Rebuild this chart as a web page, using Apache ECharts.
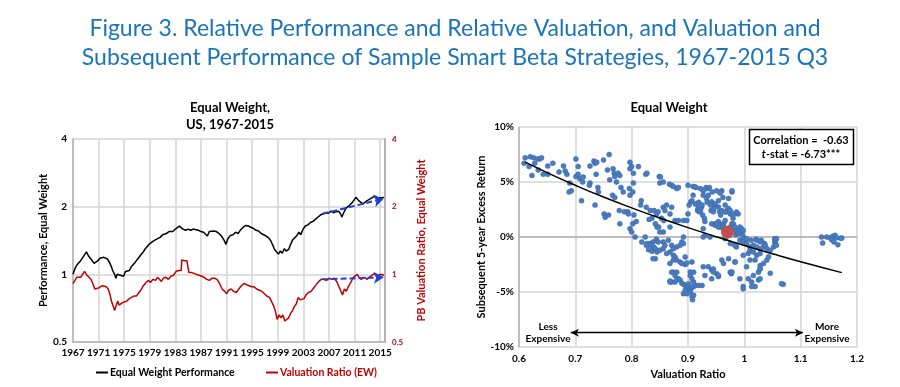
<!DOCTYPE html>
<html><head><meta charset="utf-8">
<script src="https://cdn.jsdelivr.net/npm/echarts@6/dist/echarts.min.js"></script>
<style>html,body{margin:0;padding:0;background:#fff}#c{width:900px;height:387px}</style>
</head><body><div id="c"></div>
<script>
const mainTitle = ['Figure 3. Relative Performance and Relative Valuation, and Valuation and',
                   'Subsequent Performance of Sample Smart Beta Strategies, 1967-2015 Q3'];
const leftTitle = ['Equal Weight,', 'US, 1967-2015'];
const rightTitle = 'Equal Weight';
const seriesNames = ['Equal Weight Performance', 'Valuation Ratio (EW)'];
const yearTicks = [1967,1971,1975,1979,1983,1987,1991,1995,1999,2003,2007,2011,2015];

const perfData = [
[1967.0,1.00],[1967.3,1.06],[1967.6,1.10],[1967.9,1.09],[1968.2,1.15],[1968.5,1.17],[1968.8,1.22],[1969.1,1.26],
[1969.4,1.21],[1969.7,1.18],[1970.0,1.17],[1970.3,1.12],[1970.6,1.11],[1970.9,1.15],[1971.2,1.18],[1971.5,1.16],
[1971.8,1.19],[1972.1,1.19],[1972.4,1.17],[1972.7,1.13],[1973.0,1.08],[1973.2,1.04],[1973.5,1.00],[1973.7,0.96],
[1973.9,1.00],[1974.2,1.02],[1974.4,0.99],[1974.7,1.00],[1974.9,0.98],[1975.2,1.03],[1975.5,1.05],[1975.8,1.04],
[1976.1,1.08],[1976.4,1.10],[1976.7,1.13],[1977.0,1.15],[1977.4,1.20],[1977.7,1.22],[1978.0,1.26],[1978.3,1.30],
[1978.7,1.34],[1979.0,1.37],[1979.3,1.36],[1979.6,1.41],[1980.0,1.43],[1980.3,1.41],[1980.6,1.46],[1981.0,1.50],
[1981.3,1.53],[1981.6,1.52],[1982.0,1.55],[1982.3,1.53],[1982.6,1.55],[1983.0,1.59],[1983.3,1.62],[1983.6,1.64],
[1983.9,1.61],[1984.2,1.59],[1984.6,1.57],[1985.0,1.59],[1985.4,1.57],[1985.8,1.59],[1986.2,1.58],[1986.6,1.57],
[1987.0,1.55],[1987.4,1.54],[1987.7,1.51],[1988.0,1.48],[1988.3,1.55],[1988.6,1.58],[1989.0,1.56],[1989.4,1.55],
[1989.8,1.52],[1990.2,1.48],[1990.6,1.42],[1990.9,1.36],[1991.2,1.44],[1991.6,1.49],[1992.0,1.50],[1992.4,1.54],
[1992.8,1.52],[1993.2,1.58],[1993.6,1.62],[1994.0,1.65],[1994.4,1.64],[1994.8,1.62],[1995.2,1.60],[1995.6,1.57],
[1996.0,1.56],[1996.4,1.52],[1996.8,1.50],[1997.2,1.48],[1997.6,1.45],[1997.9,1.41],[1998.2,1.35],[1998.5,1.29],
[1998.8,1.27],[1999.1,1.23],[1999.4,1.27],[1999.7,1.24],[2000.0,1.30],[2000.3,1.27],[2000.7,1.29],[2001.0,1.36],
[2001.3,1.42],[2001.6,1.40],[2002.0,1.49],[2002.3,1.54],[2002.6,1.50],[2002.9,1.58],[2003.3,1.64],[2003.7,1.66],
[2004.1,1.70],[2004.5,1.72],[2004.9,1.76],[2005.3,1.80],[2005.7,1.84],[2006.1,1.86],[2006.5,1.88],[2006.9,1.87],
[2007.3,1.91],[2007.7,1.88],[2008.1,1.90],[2008.5,1.91],[2008.8,1.86],[2009.0,1.80],[2009.3,1.88],[2009.6,1.96],
[2009.9,2.00],[2010.2,2.03],[2010.6,2.08],[2010.9,2.14],[2011.2,2.20],[2011.4,2.22],[2011.7,2.12],[2012.0,2.08],
[2012.3,2.06],[2012.6,2.10],[2012.9,2.12],[2013.2,2.14],[2013.5,2.17],[2013.8,2.20],[2014.1,2.23],[2014.4,2.21],
[2014.7,2.19],[2015.0,2.22],[2015.3,2.19],[2015.6,2.20]
];

const valData = [
[1967.0,0.91],[1967.3,0.94],[1967.6,0.97],[1967.9,0.98],[1968.2,0.97],[1968.5,1.00],[1968.8,1.03],[1969.0,1.05],
[1969.2,0.99],[1969.5,0.97],[1969.8,0.95],[1970.1,0.91],[1970.4,0.86],[1970.7,0.86],[1971.0,0.87],[1971.3,0.86],
[1971.6,0.89],[1971.9,0.89],[1972.2,0.88],[1972.5,0.86],[1972.8,0.81],[1973.0,0.76],[1973.3,0.72],[1973.5,0.69],
[1973.7,0.72],[1974.0,0.76],[1974.2,0.73],[1974.5,0.72],[1974.8,0.75],[1975.1,0.74],[1975.4,0.76],[1975.8,0.78],
[1976.1,0.78],[1976.5,0.80],[1976.9,0.80],[1977.3,0.83],[1977.6,0.85],[1978.0,0.89],[1978.4,0.92],[1978.8,0.94],
[1979.1,0.92],[1979.5,0.95],[1979.9,0.94],[1980.2,0.97],[1980.5,0.95],[1980.8,0.93],[1981.1,0.96],[1981.5,0.97],
[1981.9,0.95],[1982.3,0.98],[1982.7,0.99],[1983.1,1.03],[1983.5,1.04],[1983.9,1.04],[1984.0,1.16],[1984.4,1.15],
[1984.8,1.15],[1985.0,1.14],[1985.1,1.02],[1985.5,1.02],[1985.9,1.01],[1986.3,1.00],[1986.7,0.99],[1987.1,0.98],
[1987.5,0.97],[1987.9,0.95],[1988.3,0.94],[1988.7,0.96],[1989.1,0.96],[1989.5,0.95],[1989.9,0.91],[1990.3,0.86],
[1990.7,0.84],[1991.0,0.82],[1991.3,0.85],[1991.7,0.86],[1992.1,0.84],[1992.5,0.83],[1992.9,0.86],[1993.3,0.89],
[1993.7,0.91],[1994.1,0.90],[1994.5,0.89],[1994.9,0.88],[1995.3,0.88],[1995.7,0.86],[1996.1,0.85],[1996.5,0.84],
[1996.9,0.82],[1997.3,0.80],[1997.7,0.79],[1998.0,0.78],[1998.3,0.73],[1998.6,0.69],[1998.9,0.63],[1999.2,0.66],
[1999.5,0.64],[1999.8,0.66],[2000.1,0.62],[2000.4,0.63],[2000.7,0.64],[2001.0,0.67],[2001.3,0.69],[2001.6,0.72],
[2001.9,0.74],[2002.2,0.79],[2002.5,0.77],[2002.8,0.77],[2003.1,0.78],[2003.4,0.81],[2003.8,0.83],[2004.2,0.84],
[2004.6,0.87],[2005.0,0.90],[2005.4,0.93],[2005.8,0.95],[2006.2,0.95],[2006.6,0.94],[2007.0,0.96],[2007.4,0.95],
[2007.8,0.96],[2008.2,0.93],[2008.5,0.89],[2008.8,0.85],[2009.1,0.81],[2009.4,0.86],[2009.7,0.84],[2010.0,0.88],
[2010.4,0.92],[2010.8,0.97],[2011.1,0.99],[2011.4,1.00],[2011.7,0.97],[2012.0,0.95],[2012.3,0.94],[2012.6,0.97],
[2012.9,0.95],[2013.2,0.96],[2013.5,0.98],[2013.8,0.99],[2014.1,1.01],[2014.4,0.98],[2014.7,0.99],[2015.0,1.00],
[2015.3,0.98],[2015.6,0.99]
];

const perfTrend = [[2006.0,1.86],[2015.55,2.17]];
const valTrend = [[2006.0,0.95],[2015.55,0.97]];

const scatterData = [
[0.611,7.2],[0.609,6.7],[0.62,7.3],[0.626,7.2],[0.633,7.1],[0.618,6.4],[0.623,5.6],[0.628,6.7],[0.634,6.1],[0.637,7.1],
[0.64,7.2],[0.643,5.7],[0.651,5.7],[0.651,6.45],[0.66,6.7],[0.671,5.9],[0.679,6.45],[0.682,6.0],[0.685,5.7],[0.69,4.9],
[0.693,4.2],[0.689,4.1],[0.701,7.1],[0.705,6.4],[0.701,5.5],[0.708,5.3],[0.713,5.0],[0.711,3.3],[0.705,5.7],[0.714,5.45],
[0.726,4.9],[0.725,4.7],[0.726,6.45],[0.733,6.9],[0.735,6.7],[0.738,6.8],[0.737,5.7],[0.735,2.9],[0.74,4.5],[0.741,4.1],
[0.75,7.0],[0.76,7.5],[0.757,6.1],[0.761,5.2],[0.751,2.1],[0.753,1.8],[0.759,2.0],[0.767,6.2],[0.769,5.8],[0.77,5.5],
[0.773,5.0],[0.776,5.8],[0.779,5.6],[0.766,3.8],[0.77,3.6],[0.781,4.5],[0.785,4.1],[0.778,2.4],[0.779,1.2],[0.787,2.3],
[0.793,2.3],[0.797,6.8],[0.8,6.4],[0.797,6.2],[0.796,4.4],[0.797,3.8],[0.802,4.1],[0.794,2.1],[0.803,4.9],[0.803,5.8],
[0.812,6.4],[0.802,1.2],[0.797,0.76],[0.8,0.45],[0.804,2.0],[0.808,1.4],[0.816,2.9],[0.817,3.3],[0.825,5.7],[0.826,2.7],
[0.833,2.4],[0.836,1.7],[0.831,1.6],[0.84,2.4],[0.844,2.1],[0.849,5.5],[0.85,4.9],[0.847,2.3],[0.856,2.7],[0.859,2.4],
[0.862,2.9],[0.853,1.7],[0.857,1.5],[0.867,4.8],[0.871,4.7],[0.874,4.6],[0.88,4.4],[0.883,4.5],[0.871,2.7],[0.868,2.1],
[0.877,1.5],[0.883,1.5],[0.892,1.5],[0.898,1.5],[0.842,1.2],[0.845,0.9],[0.848,0.9],[0.856,0.45],[0.85,0.45],[0.868,0.9],
[0.9,4.7],[0.909,4.6],[0.902,2.9],[0.905,3.2],[0.907,3.3],[0.909,3.8],[0.9,2.1],[0.914,4.5],[0.915,3.0],[0.917,2.4],
[0.918,2.6],[0.92,2.3],[0.922,2.4],[0.924,2.7],[0.927,4.2],[0.927,3.8],[0.926,2.0],[0.929,1.7],[0.93,1.4],[0.93,0.15],
[0.932,4.5],[0.936,4.4],[0.938,4.5],[0.933,3.5],[0.936,3.8],[0.942,3.2],[0.945,2.9],[0.948,3.0],[0.941,2.4],[0.945,2.3],
[0.942,1.2],[0.948,1.2],[0.951,1.2],[0.954,1.4],[0.957,0.9],[0.96,1.1],[0.963,1.2],[0.951,4.2],[0.954,3.3],[0.956,2.3],
[0.958,2.0],[0.962,3.6],[0.966,2.9],[0.968,2.3],[0.969,2.4],[0.972,2.6],[0.975,2.1],[0.978,4.1],[0.98,2.0],[0.98,1.7],
[0.978,1.2],[0.981,1.1],[0.975,0.9],[0.982,0.8],[0.984,0.6],[0.989,2.1],[0.992,0.9],[0.995,0.45],[0.997,0.6],[0.988,0.45],
[0.985,0.2],[0.997,0.15],[1.0,-0.15],[1.012,-0.3],[1.021,-0.2],[1.03,-0.3],[1.036,-0.6],[1.054,-0.15],[1.054,-0.45],
[0.838,-0.45],[0.844,-0.2],[0.832,-0.6],[0.847,-0.45],[0.856,-0.45],[0.865,-0.3],[0.806,0.0],
[0.827,-0.6],[0.833,-0.76],[0.839,-0.9],[0.83,-1.15],[0.836,-1.3],[0.842,-1.06],[0.845,-1.36],[0.85,-1.2],[0.856,-1.06],
[0.859,-0.76],[0.871,-0.76],[0.874,-1.06],[0.88,-0.9],[0.886,-0.76],[0.889,-0.45],[0.892,-0.6],[0.868,-1.36],[0.862,-1.5],
[0.842,-1.97],[0.874,-1.67],[0.877,-1.82],[0.88,-2.1],[0.886,-2.27],[0.889,-2.4],[0.895,-2.5],[0.898,-2.36],[0.895,-1.82],
[0.892,0.0],[0.824,0.0],[0.818,-0.45],
[0.874,-3.2],[0.871,-3.2],[0.88,-3.2],[0.877,-3.5],[0.883,-3.8],[0.871,-4.1],[0.868,-4.0],[0.877,-4.1],[0.88,-3.9],
[0.886,-3.9],[0.889,-4.2],[0.892,-4.3],[0.895,-4.4],[0.898,-4.5],[0.901,-4.7],[0.904,-4.8],[0.907,-4.6],[0.91,-4.5],
[0.913,-4.4],[0.919,-4.4],[0.925,-4.4],[0.895,-4.85],[0.892,-5.15],[0.898,-5.15],[0.907,-5.4],[0.908,-5.7],[0.904,-5.0],
[0.901,-4.24],[0.91,-4.1],[0.907,-3.8],[0.904,-3.5],[0.91,-3.2],[0.93,-3.5],[0.936,-2.7],[0.942,-3.0],[0.945,-2.9],
[0.951,-3.33],[0.954,-3.6],[0.96,-2.1],[0.963,-2.4],[0.942,-3.8],[0.975,-3.2],[0.977,-3.33],[0.972,-1.97],[0.983,-2.27],
[0.992,-3.8],[0.998,-4.5],[1.004,-2.7],[1.01,-2.1],[1.007,-3.8],[1.013,-4.1],[1.016,-3.5],[1.019,-4.5],[1.025,-3.2],
[1.028,-2.9],[1.028,-2.6],[1.034,-2.4],[1.04,-2.1],[1.043,-1.8],[1.046,-3.3],[1.019,-2.1],[1.022,-1.67],[1.028,-1.5],
[1.007,-1.5],[0.998,-1.67],[1.01,-1.2],[1.025,-3.9],[1.069,-4.3],
[0.992,-0.3],[0.998,-0.45],[1.004,-0.6],[1.01,-0.9],[1.016,-0.76],[1.022,-0.9],[1.028,-1.06],[1.034,-0.9],[1.037,-0.76],
[1.04,-1.06],[1.046,-1.2],[1.052,-0.9],[1.055,-0.6],[1.055,-0.3],[1.057,-0.15],[1.022,-0.3],[1.028,-0.45],[1.016,-1.36],
[1.004,-0.15],[0.986,-0.9],[0.983,-0.76],[0.975,-0.6],[0.966,-0.15],[0.939,0.0],[0.927,0.0],
[0.948,1.06],[0.951,1.2],[0.957,1.06],[0.96,0.9],[0.963,1.2],[0.966,1.5],[0.954,0.9],[0.98,1.2],[0.983,0.9],[0.986,0.6],
[0.989,0.3],[0.992,0.55],[0.995,0.76],[0.998,0.6],[0.927,0.76],
[1.146,0.0],[1.152,-0.06],[1.157,0.06],[1.161,0.15],[1.155,-0.24],[1.159,-0.45],[1.164,-0.06],[1.171,-0.12],[1.139,-0.55],
[1.166,-0.7],[1.137,0.0],[1.173,-0.1],
[0.826,-0.75],[0.838,-1.97],[0.868,-2.4],[0.874,-2.1],[0.907,-2.27],[0.904,-3.18],[0.868,-4.1],[0.91,-5.3],[0.927,-2.7],
[0.945,-3.18],[0.954,-3.48],[0.978,-3.18],[0.984,-2.27],[0.998,-4.7],[1.013,-4.5],[1.028,-3.8],[1.028,-2.88],[1.066,-4.24],
[1.057,-0.76],
[0.827,5.8],[0.851,5.45],[0.856,5.0],[0.913,4.55],[0.922,4.4],[0.928,4.24],[0.943,4.1],[0.96,4.2],[0.957,4.0],[0.978,4.2],
[0.972,3.5],[0.913,3.0],[0.919,3.15],[0.925,2.9],[0.934,3.15],[0.94,2.9],[0.946,2.6],[0.954,2.73],[0.96,2.4],[0.966,2.27],
[0.975,2.4],[0.98,2.1],[0.986,2.27]
];
const currentPoint = [[0.97,0.45]];
const fitLine = [[0.611,6.8],[0.65,5.85],[0.7,4.7],[0.75,3.63],[0.8,2.65],[0.85,1.72],[0.9,0.85],[0.95,0.03],[1.0,-0.78],[1.05,-1.53],[1.1,-2.25],[1.173,-3.24]];
const expensiveArrow = [[0.692,-8.7],[1.104,-8.7]];
const corrLabel = 'Correlation =  -0.63';
const tstatLabel = '-stat = -6.73***';
const lessLabel = 'Less\nExpensive';
const moreLabel = 'More\nExpensive';

const FONT = 'Lato, "Noto Sans", sans-serif';
const GRID = '#d4d4d4';
const AXIS = '#b3b3b3';

const chart = echarts.init(document.getElementById('c'), null, {renderer: 'canvas'});

function txt(text, x, y, font, fill, align) {
  return {type: 'text', silent: true, style: {text: text, x: x, y: y, font: font, fill: fill || '#000',
          textAlign: align || 'center', textVerticalAlign: 'middle', lineHeight: 12}};
}

chart.setOption({
  animation: false,
  backgroundColor: '#fff',
  textStyle: {fontFamily: FONT},
  grid: [
    {left: 73, right: 515, top: 139, bottom: 45},
    {left: 519, right: 43, top: 127, bottom: 40}
  ],
  legend: [
    {data: [seriesNames[0]], left: 91, top: 362, icon: 'rect', itemWidth: 12, itemHeight: 2, itemGap: 4,
     textStyle: {fontFamily: FONT, fontWeight: 'bold', fontSize: 10.5, color: '#000', padding: [0,0,0,-3]}},
    {data: [seriesNames[1]], left: 261, top: 362, icon: 'rect', itemWidth: 12, itemHeight: 2, itemGap: 4,
     textStyle: {fontFamily: FONT, fontWeight: 'bold', fontSize: 10.5, color: '#c00000', padding: [0,0,0,-3]}}
  ],
  xAxis: [
    {type: 'value', gridIndex: 0, min: 1967, max: 2015.75, interval: 4,
     axisLine: {show: true, lineStyle: {color: AXIS, width: 1.5}}, axisTick: {show: false},
     splitLine: {show: true, lineStyle: {color: GRID, width: 1.5}},
     axisLabel: {fontFamily: FONT, fontWeight: 'bold', fontSize: 10, color: '#000', margin: 6,
       showMaxLabel: false,
       formatter: function (v) { return yearTicks.indexOf(Math.round(v)) >= 0 && Math.abs(v - Math.round(v)) < 1e-6 ? String(Math.round(v)) : ''; }}},
    {type: 'value', gridIndex: 1, min: 0.6, max: 1.2, interval: 0.1,
     axisLine: {show: true, lineStyle: {color: AXIS, width: 1.5}}, axisTick: {show: false},
     splitLine: {show: true, lineStyle: {color: GRID, width: 1.5}},
     axisLabel: {fontFamily: FONT, fontWeight: 'bold', fontSize: 10, color: '#000', margin: 7,
       formatter: function (v) { return String(Math.round(v * 10) / 10); }},
     name: 'Valuation Ratio', nameLocation: 'middle', nameGap: 21,
     nameTextStyle: {fontFamily: FONT, fontWeight: 'bold', fontSize: 11, color: '#000'}}
  ],
  yAxis: [
    {type: 'log', logBase: 2, gridIndex: 0, min: 0.5, max: 4,
     axisLine: {show: true, lineStyle: {color: AXIS, width: 1.5}}, axisTick: {show: false},
     splitLine: {show: true, lineStyle: {color: GRID, width: 1.5}},
     axisLabel: {fontFamily: FONT, fontWeight: 'bold', fontSize: 10, color: '#000', margin: 6},
     name: 'Performance, Equal Weight', nameLocation: 'middle', nameGap: 22, nameRotate: 90,
     nameTextStyle: {fontFamily: FONT, fontWeight: 'bold', fontSize: 11, color: '#000'}},
    {type: 'log', logBase: 2, gridIndex: 0, min: 0.5, max: 4, position: 'right',
     axisLine: {show: true, lineStyle: {color: AXIS, width: 2}}, axisTick: {show: false},
     splitLine: {show: false},
     axisLabel: {fontFamily: FONT, fontWeight: 'bold', fontSize: 8, color: '#c00000', margin: 7},
     name: 'PB Valuation Ratio, Equal Weight', nameLocation: 'middle', nameGap: 31, nameRotate: 90,
     nameTextStyle: {fontFamily: FONT, fontWeight: 'bold', fontSize: 11, color: '#c00000'}},
    {type: 'value', gridIndex: 1, min: -10, max: 10, interval: 5,
     axisLine: {show: true, lineStyle: {color: AXIS, width: 1.5}}, axisTick: {show: false},
     splitLine: {show: true, lineStyle: {color: GRID, width: 1.5}},
     axisLabel: {fontFamily: FONT, fontWeight: 'bold', fontSize: 10, color: '#000', margin: 5,
       formatter: function (v) { return v + '%'; }},
     name: 'Subsequent 5-year Excess Return', nameLocation: 'middle', nameGap: 30, nameRotate: 90,
     nameTextStyle: {fontFamily: FONT, fontWeight: 'bold', fontSize: 11, color: '#000'}}
  ],
  series: [
    {name: seriesNames[0], type: 'line', xAxisIndex: 0, yAxisIndex: 0, data: perfData, showSymbol: false,
     lineStyle: {color: '#000', width: 1.5}, itemStyle: {color: '#000'}, z: 3,
     markLine: {silent: true, symbol: ['none', 'arrow'], symbolSize: [9, 10], label: {show: false},
       lineStyle: {color: '#1f3fd8', type: [6, 3], width: 2},
       data: [[{coord: perfTrend[0]}, {coord: perfTrend[1]}]]}},
    {name: seriesNames[1], type: 'line', xAxisIndex: 0, yAxisIndex: 1, data: valData, showSymbol: false,
     lineStyle: {color: '#c00000', width: 1.5}, itemStyle: {color: '#c00000'}, z: 3,
     markLine: {silent: true, symbol: ['none', 'arrow'], symbolSize: [9, 10], label: {show: false},
       lineStyle: {color: '#1f3fd8', type: [6, 3], width: 2},
       data: [[{coord: valTrend[0]}, {coord: valTrend[1]}]]}},
    {name: 'scatter', type: 'scatter', xAxisIndex: 1, yAxisIndex: 2, data: scatterData, symbolSize: 5,
     itemStyle: {color: '#4a7cbf', borderColor: '#3565a6', borderWidth: 0.5, opacity: 1}, z: 2,
     markLine: {silent: true, symbol: ['arrow', 'arrow'], symbolSize: [6, 8], label: {show: false},
       lineStyle: {color: '#000', type: 'solid', width: 1.3},
       data: [[{coord: expensiveArrow[0]}, {coord: expensiveArrow[1]}]]}},
    {name: 'fit', type: 'line', xAxisIndex: 1, yAxisIndex: 2, data: fitLine, smooth: true, showSymbol: false,
     lineStyle: {color: '#000', width: 1.5}, z: 4},
    {name: 'current', type: 'scatter', xAxisIndex: 1, yAxisIndex: 2, data: currentPoint, symbolSize: 13,
     itemStyle: {color: '#c0504d', opacity: 1}, z: 5}
  ],
  graphic: [
    txt(mainTitle[0], 455, 29, '23px ' + FONT, '#1b74b9'),
    txt(mainTitle[1], 455, 58, '23px ' + FONT, '#1b74b9'),
    txt(leftTitle[0], 230, 108, 'bold 13px ' + FONT, '#000'),
    txt(leftTitle[1], 230, 125, 'bold 13px ' + FONT, '#000'),
    txt(rightTitle, 669, 108, 'bold 13px ' + FONT, '#000'),
    {type: 'rect', silent: true, shape: {x: 749.5, y: 129.5, width: 104, height: 35},
     style: {fill: '#fff', stroke: '#000', lineWidth: 1.5}, z: 10},
    {type: 'text', silent: true, z: 11, style: {text: corrLabel, x: 801, y: 140, font: 'bold 11px ' + FONT,
      fill: '#000', textAlign: 'center', textVerticalAlign: 'middle'}},
    {type: 'text', silent: true, z: 11, style: {text: '{i|t}' + tstatLabel, x: 801, y: 154, font: 'bold 11px ' + FONT,
      fill: '#000', textAlign: 'center', textVerticalAlign: 'middle',
      rich: {i: {fontStyle: 'italic', fontWeight: 'bold', fontSize: 11, fontFamily: FONT, fill: '#000'}}}},
    txt(lessLabel, 548, 333, 'bold 10px ' + FONT, '#000'),
    txt(moreLabel, 827, 333, 'bold 10px ' + FONT, '#000')
  ]
});
</script>
</body></html>
